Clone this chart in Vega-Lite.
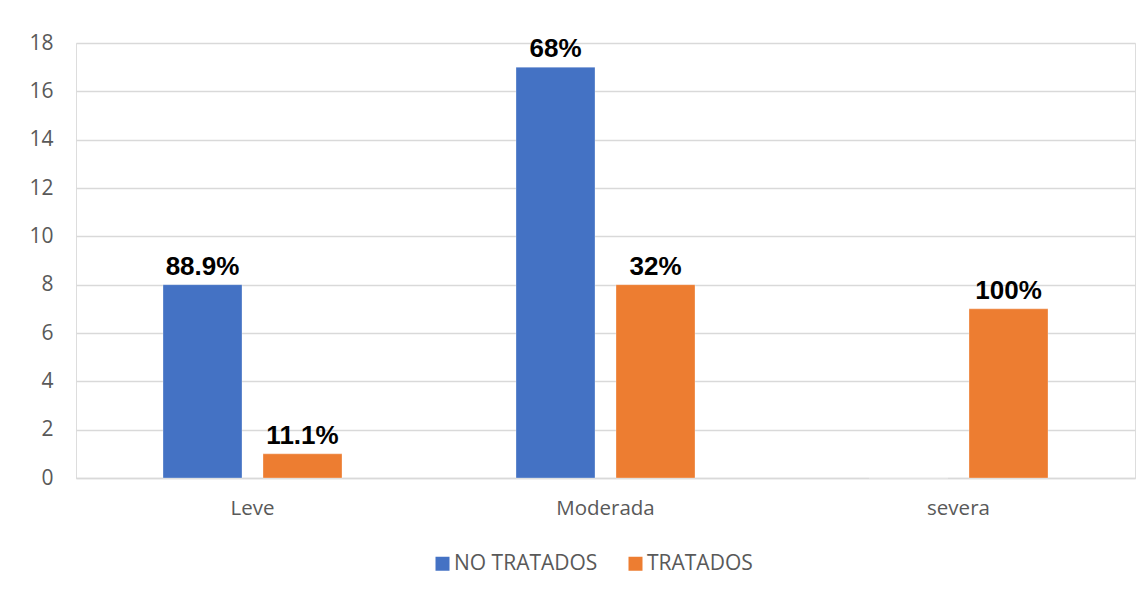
{
  "$schema": "https://vega.github.io/schema/vega-lite/v6.json",
  "autosize": "none",
  "width": 1059,
  "height": 435,
  "padding": {"left": 76, "top": 43, "right": 13, "bottom": 115},
  "background": "white",
  "data": {
    "values": [
      {"categoria": "Leve", "grupo": "NO TRATADOS", "n": 8, "pct": "88.9%"},
      {"categoria": "Leve", "grupo": "TRATADOS", "n": 1, "pct": "11.1%"},
      {"categoria": "Moderada", "grupo": "NO TRATADOS", "n": 17, "pct": "68%"},
      {"categoria": "Moderada", "grupo": "TRATADOS", "n": 8, "pct": "32%"},
      {"categoria": "severa", "grupo": "NO TRATADOS", "n": 0, "pct": ""},
      {"categoria": "severa", "grupo": "TRATADOS", "n": 7, "pct": "100%"}
    ]
  },
  "encoding": {
    "x": {
      "field": "categoria", "type": "nominal", "sort": ["Leve", "Moderada", "severa"],
      "scale": {"paddingInner": 0, "paddingOuter": 0},
      "axis": {"title": null, "labelAngle": 0, "ticks": false, "domain": true, "domainColor": "#d9d9d9", "domainWidth": 1.5,
               "labelFont": "Open Sans", "labelFontSize": 20.5, "labelColor": "#595959", "labelPadding": 20}
    },
    "xOffset": {
      "field": "grupo", "type": "nominal", "sort": ["NO TRATADOS", "TRATADOS"],
      "scale": {"paddingInner": 0.21, "paddingOuter": 0.87}
    },
    "y": {
      "field": "n", "type": "quantitative",
      "scale": {"domain": [0, 18], "nice": false},
      "axis": {"title": null, "values": [0, 2, 4, 6, 8, 10, 12, 14, 16, 18], "ticks": false, "domain": false,
               "gridColor": "#d9d9d9", "gridWidth": 1.5,
               "labelFont": "Open Sans", "labelFontSize": 21, "labelColor": "#595959", "labelPadding": 23}
    }
  },
  "layer": [
    {
      "mark": {"type": "bar", "stroke": "white", "strokeWidth": 0.5, "strokeOpacity": 0.6},
      "encoding": {
        "color": {
          "field": "grupo", "type": "nominal", "sort": ["NO TRATADOS", "TRATADOS"],
          "scale": {"domain": ["NO TRATADOS", "TRATADOS"], "range": ["#4472C4", "#ED7D31"]},
          "legend": {
            "title": null, "orient": "none", "direction": "horizontal",
            "legendX": 356, "legendY": 510,
            "symbolType": "square", "symbolSize": 196, "symbolStrokeWidth": 0,
            "labelFont": "Open Sans", "labelFontSize": 21, "labelColor": "#595959",
            "labelOffset": 1, "columnPadding": 27
          }
        }
      }
    },
    {
      "mark": {"type": "text", "baseline": "alphabetic", "dy": -10, "font": "Liberation Sans", "fontWeight": "bold", "fontSize": 26, "color": "#000000"},
      "encoding": {"text": {"field": "pct"}}
    }
  ]
}
